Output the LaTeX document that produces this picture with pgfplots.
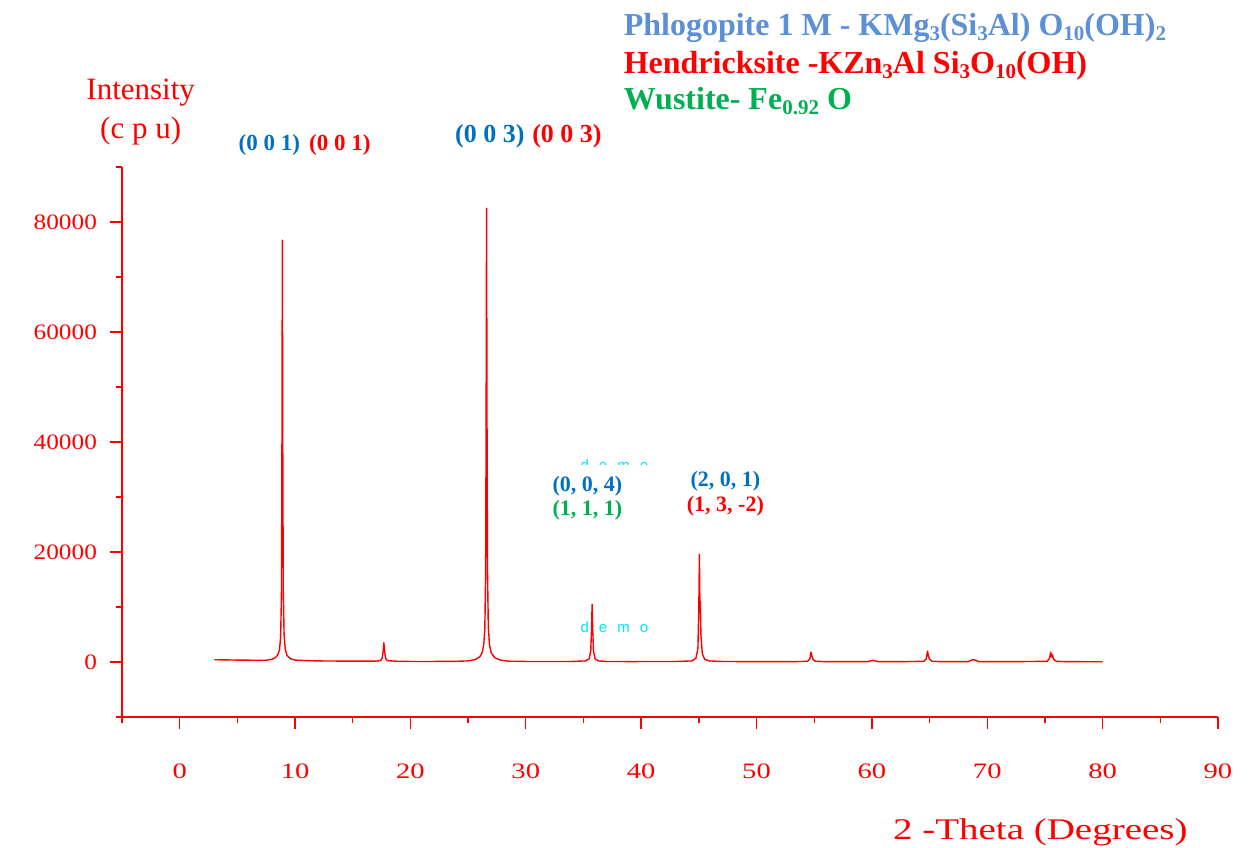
\documentclass[border=0pt]{standalone}
\usepackage{pgfplots}
\pgfplotsset{compat=1.18}
\usepackage{fontspec}
\setmainfont{Liberation Serif}
\newfontfamily\widefont[FakeStretch=1.3]{Liberation Serif}
\newfontfamily\tickfont[FakeStretch=1.15]{Liberation Serif}
\newfontfamily\demofont{Liberation Sans}
\definecolor{tblue}{RGB}{91,143,214}
\definecolor{lblue}{RGB}{0,112,192}
\definecolor{lgreen}{RGB}{0,176,80}
\definecolor{dcyan}{RGB}{0,230,255}
\newcommand{\sub}[1]{\raisebox{-0.3ex}{\fontsize{10.5}{11}\selectfont #1}}
\begin{document}
\begin{tikzpicture}
\useasboundingbox (-61pt,-65pt) rectangle (567pt,358.5pt);
\begin{axis}[
  at={(0,0)}, anchor=south west,
  scale only axis, width=548pt, height=275pt,
  xmin=-5, xmax=90, ymin=-10000, ymax=90000,
  axis lines*=left,
  axis line style={red, line width=0.7pt, -},
  tick style={red, line width=0.7pt},
  tick align=outside,
  major tick length=6pt, minor tick length=3pt,
  xtick={0,10,...,90}, minor xtick={-5,5,...,85},
  ytick={0,20000,...,80000}, minor ytick={-10000,10000,...,90000},
  scaled ticks=false,
  /pgf/number format/1000 sep={},
  /pgf/number format/assume math mode=true,
  x tick label style={red, font=\widefont\fontsize{11}{13}\selectfont, yshift=-14pt},
  y tick label style={red, font=\tickfont\fontsize{11}{13}\selectfont, xshift=-3pt},
  clip=false,
]
\addplot[red, line width=0.7pt, line join=round] coordinates {
(3.0,420) (3.5,400) (4.0,380) (4.5,370) (5.0,350) (5.5,340) (6.0,330) (6.5,320) (7.0,300) (7.5,320) (8.0,500) (8.3,800) (8.5,1300) (8.65,2200) (8.75,4500) (8.82,12000) (8.86,35000) (8.9,76700) (8.94,36000) (8.98,13000) (9.05,5000) (9.15,2300) (9.3,1200) (9.6,600) (10.0,350) (11,250) (12,200) (13,180) (14,170) (15,160) (16,150) (17,160) (17.4,250) (17.55,700) (17.64,2000) (17.7,3500) (17.76,2000) (17.85,650) (18.0,250) (19,120) (20,100) (21,100) (22,100) (23,110) (24,130) (25,200) (25.6,450) (26.0,900) (26.2,1600) (26.35,3000) (26.45,6000) (26.52,16000) (26.56,42000) (26.6,82500) (26.64,44000) (26.68,17000) (26.75,6500) (26.85,3200) (27.0,1700) (27.3,800) (27.8,350) (28.5,150) (30,100) (32,90) (34,100) (35.2,200) (35.5,600) (35.63,2000) (35.7,6000) (35.75,10500) (35.8,6000) (35.87,2000) (36.0,600) (36.3,200) (37,100) (39,80) (41,90) (43,90) (44.4,200) (44.75,700) (44.92,2500) (45.0,10000) (45.05,19600) (45.1,9000) (45.13,11000) (45.18,5000) (45.3,1500) (45.5,500) (45.9,200) (47,100) (50,60) (53,60) (54.4,120) (54.62,500) (54.72,1800) (54.8,1100) (54.9,450) (55.1,150) (56,60) (59.6,60) (60.1,300) (60.6,60) (62,60) (63,80) (64.5,120) (64.72,600) (64.82,2000) (64.9,1100) (65.0,500) (65.2,150) (66,60) (68.3,60) (68.8,450) (69.3,60) (72,60) (75.2,120) (75.4,700) (75.5,1800) (75.58,900) (75.65,1300) (75.75,500) (76.0,120) (77,60) (80,50)
};
% titles
\node[anchor=west, inner sep=0pt, font=\bfseries\fontsize{16}{19}\selectfont, text=tblue] at (axis cs:38.46,115270) {Phlogopite 1 M - KMg\sub{3}(Si\sub{3}Al) O\sub{10}(OH)\sub{2}};
\node[anchor=west, inner sep=0pt, font=\bfseries\fontsize{16}{19}\selectfont, text=red] at (axis cs:38.46,108360) {Hendricksite -KZn\sub{3}Al Si\sub{3}O\sub{10}(OH)};
\node[anchor=west, inner sep=0pt, font=\bfseries\fontsize{16}{19}\selectfont, text=lgreen] at (axis cs:38.46,102000) {Wustite- Fe\sub{0.92} O};
% axis labels
\node[font=\fontsize{15.5}{18}\selectfont, text=red] at (axis cs:-3.38,103450) {Intensity};
\node[font=\fontsize{15.5}{18}\selectfont, text=red] at (axis cs:-3.38,96540) {(c p u)};
\node[font=\widefont\fontsize{15}{18}\selectfont, text=red] at (axis cs:74.6,-30900) {2 -Theta (Degrees)};
% peak labels
\node[font=\bfseries\fontsize{11.5}{13}\selectfont] at (axis cs:10.83,94000) {\textcolor{lblue}{(0 0 1)}\hspace{0.4em}\textcolor{red}{(0 0 1)}};
\node[font=\bfseries\fontsize{13}{15}\selectfont] at (axis cs:30.23,95630) {\textcolor{lblue}{(0 0 3)}\hspace{0.3em}\textcolor{red}{(0 0 3)}};
\node[font=\bfseries\fontsize{11}{12}\selectfont, text=lblue] at (axis cs:35.34,32000) {(0, 0, 4)};
\node[font=\bfseries\fontsize{11}{12}\selectfont, text=lgreen] at (axis cs:35.34,27630) {(1, 1, 1)};
\node[font=\bfseries\fontsize{11}{12}\selectfont, text=lblue] at (axis cs:47.3,32900) {(2, 0, 1)};
\node[font=\bfseries\fontsize{11}{12}\selectfont, text=red] at (axis cs:47.3,28360) {(1, 3, -2)};
% watermark
\node[font=\demofont\fontsize{7.5}{8}\selectfont, text=dcyan] at (axis cs:37.68,6360) {d\hspace{5pt}e\hspace{5pt}m\hspace{5pt}o};
\begin{scope}
\clip (axis cs:30,36000) rectangle (axis cs:45,38000);
\node[font=\demofont\fontsize{7.5}{8}\selectfont, text=dcyan] at (axis cs:37.68,35800) {d\hspace{5pt}e\hspace{5pt}m\hspace{5pt}o};
\end{scope}
\end{axis}
\end{tikzpicture}
\end{document}
